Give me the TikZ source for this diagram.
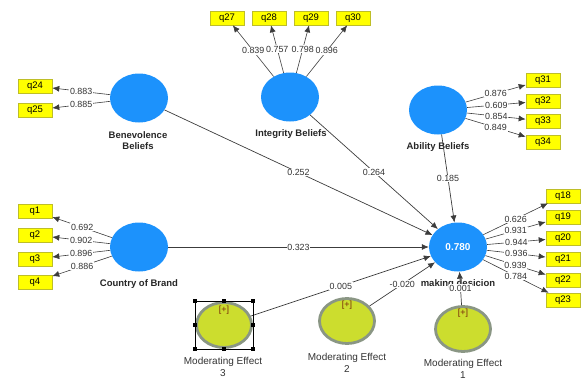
\documentclass[tikz,border=0pt]{standalone}
\usepackage{fontspec}
\setmainfont{Liberation Sans}
\usepackage{tikz}
\usetikzlibrary{arrows.meta, shapes.geometric, positioning}

\definecolor{latentblue}{RGB}{28,146,252}
\definecolor{itemyellow}{RGB}{255,255,0}
\definecolor{itemborder}{RGB}{190,190,40}
\definecolor{modfill}{RGB}{204,221,46}
\definecolor{modborder}{RGB}{138,150,132}
\definecolor{plusred}{RGB}{120,40,10}
\definecolor{pathgray}{RGB}{60,60,60}

\begin{document}
\begin{tikzpicture}[
    x=1pt, y=-1pt,
    latent/.style={ellipse, fill=latentblue, minimum width=58pt, minimum height=49pt, inner sep=0pt, font=\fontsize{10}{12}\selectfont\bfseries, text=white},
    moder/.style={ellipse, fill=modfill, draw=modborder, line width=2.8pt, minimum width=55pt, minimum height=45pt, inner sep=0pt},
    item/.style={rectangle, fill=itemyellow, draw=itemborder, line width=0.6pt, minimum width=34pt, minimum height=14pt, inner sep=0pt, font=\fontsize{9.5}{10}\selectfont},
    latentname/.style={align=center, font=\fontsize{9.5}{11}\selectfont\bfseries, text=black!85},
    modname/.style={align=center, font=\fontsize{10}{11.5}\selectfont, text=black!80},
    plus/.style={font=\fontsize{9}{10}\selectfont, text=plusred},
    coef/.style={fill=white, inner sep=0.8pt, font=\fontsize{8.9}{10}\selectfont, text=black!80},
    outerarrow/.style={draw=pathgray, line width=0.6pt, -{Latex[length=7pt,width=6pt]}},
    innerarrow/.style={draw=pathgray, line width=0.7pt, -{Latex[length=7pt,width=6pt]}},
    handle/.style={rectangle, fill=black, minimum size=3.5pt, inner sep=0pt}
]
\useasboundingbox (0,0) rectangle (583,380);

\node[latent] (ben) at (139,98) {};
\node[latent] (integ) at (290,97) {};
\node[latent] (abil) at (438,110) {};
\node[latent] (country) at (139,247) {};
\node[latent] (decision) at (458,247) {0.780};

\node[latentname] (benname) at (138,141) {Benevolence\\Beliefs};
\node[latentname] (integname) at (291,134) {Integrity Beliefs};
\node[latentname] (abilname) at (438,147) {Ability Beliefs};
\node[latentname] (countryname) at (139,284) {Country of Brand};
\node[latentname] (decisionname) at (458,284) {making desicion};

\node[moder] (me3) at (224,325) {};
\node[moder] (me2) at (347,321) {};
\node[moder] (me1) at (463,329) {};
\node[plus] (plus3) at (224,310) {[+]};
\node[plus] (plus2) at (347,305) {[+]};
\node[plus] (plus1) at (463,313) {[+]};
\node[modname] (me3name) at (223,367) {Moderating Effect\\3};
\node[modname] (me2name) at (347,363) {Moderating Effect\\2};
\node[modname] (me1name) at (463,369) {Moderating Effect\\1};

\node[item] (q24) at (35,86) {q24};
\node[item] (q25) at (35,110) {q25};
\node[item] (q27) at (227,18) {q27};
\node[item] (q28) at (269,18) {q28};
\node[item] (q29) at (311,18) {q29};
\node[item] (q30) at (353,18) {q30};
\node[item] (q31) at (543,80) {q31};
\node[item] (q32) at (543,101) {q32};
\node[item] (q33) at (543,121) {q33};
\node[item] (q34) at (543,142) {q34};
\node[item] (q1) at (35,211) {q1};
\node[item] (q2) at (35,235) {q2};
\node[item] (q3) at (35,259) {q3};
\node[item] (q4) at (35,282) {q4};
\node[item] (q18) at (563,196) {q18};
\node[item] (q19) at (563,217) {q19};
\node[item] (q20) at (563,238) {q20};
\node[item] (q21) at (563,259) {q21};
\node[item] (q22) at (563,280) {q22};
\node[item] (q23) at (563,300) {q23};

\draw[outerarrow] (ben) -- node[coef] {0.883} (q24);
\draw[outerarrow] (ben) -- node[coef] {0.885} (q25);
\draw[outerarrow] (integ) -- node[coef] {0.839} (q27);
\draw[outerarrow] (integ) -- node[coef] {0.757} (q28);
\draw[outerarrow] (integ) -- node[coef] {0.798} (q29);
\draw[outerarrow] (integ) -- node[coef] {0.896} (q30);
\draw[outerarrow] (abil) -- node[coef] {0.876} (q31);
\draw[outerarrow] (abil) -- node[coef] {0.609} (q32);
\draw[outerarrow] (abil) -- node[coef] {0.854} (q33);
\draw[outerarrow] (abil) -- node[coef] {0.849} (q34);
\draw[outerarrow] (country) -- node[coef] {0.692} (q1);
\draw[outerarrow] (country) -- node[coef] {0.902} (q2);
\draw[outerarrow] (country) -- node[coef] {0.896} (q3);
\draw[outerarrow] (country) -- node[coef] {0.886} (q4);
\draw[outerarrow] (decision) -- node[coef] {0.626} (q18);
\draw[outerarrow] (decision) -- node[coef] {0.931} (q19);
\draw[outerarrow] (decision) -- node[coef] {0.944} (q20);
\draw[outerarrow] (decision) -- node[coef] {0.936} (q21);
\draw[outerarrow] (decision) -- node[coef] {0.939} (q22);
\draw[outerarrow] (decision) -- node[coef] {0.784} (q23);

\draw[innerarrow] (ben) -- node[coef] {0.252} (decision);
\draw[innerarrow] (integ) -- node[coef] {0.264} (decision);
\draw[innerarrow] (abil) -- node[coef] {0.185} (decision);
\draw[innerarrow] (country) -- node[coef] {0.323} (decision);
\draw[innerarrow] (me3) -- node[coef] {0.005} (decision);
\draw[innerarrow] (me2) -- node[coef] {-0.020} (decision);
\draw[innerarrow] (me1) -- node[coef] {0.001} (decision);

\draw[line width=0.6pt] (me3.west |- me3.north) rectangle (me3.east |- me3.south);
\node[handle] (h1) at (me3.west |- me3.north) {};
\node[handle] (h2) at (me3.north) {};
\node[handle] (h3) at (me3.east |- me3.north) {};
\node[handle] (h4) at (me3.west) {};
\node[handle] (h5) at (me3.east) {};
\node[handle] (h6) at (me3.west |- me3.south) {};
\node[handle] (h7) at (me3.south) {};
\node[handle] (h8) at (me3.east |- me3.south) {};
\end{tikzpicture}
\end{document}
